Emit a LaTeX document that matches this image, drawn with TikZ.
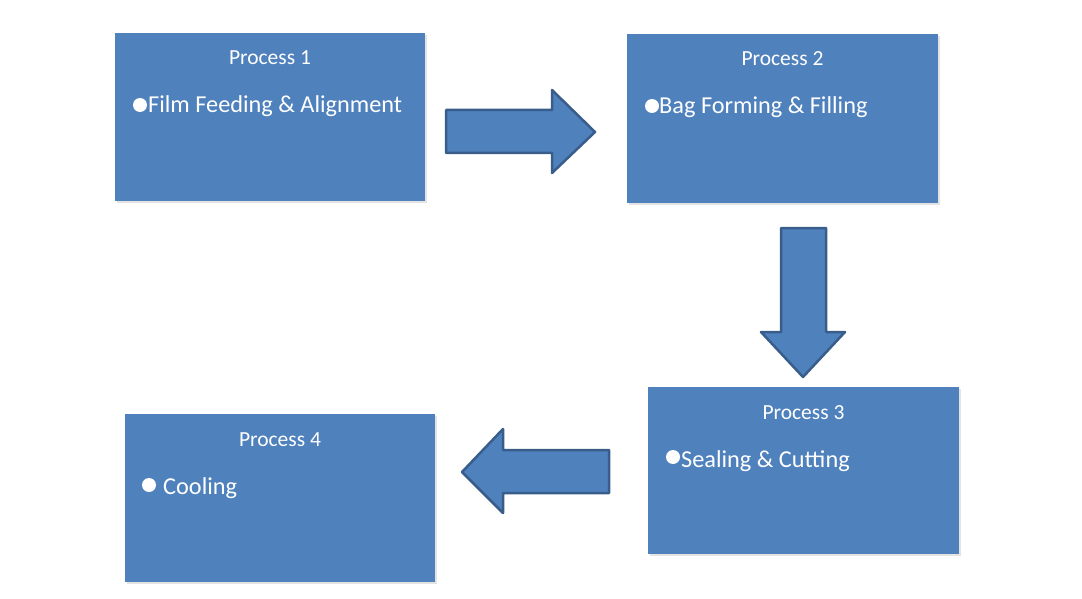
\documentclass[tikz,border=0pt]{standalone}
\usepackage{fontspec}
\setmainfont{Carlito}
\usetikzlibrary{shadows}

\definecolor{procblue}{HTML}{4F81BD}
\definecolor{procedge}{HTML}{385D8A}

\tikzset{
  procbox/.style={fill=procblue, draw=none, inner sep=0pt,
    drop shadow={opacity=0.22, shadow xshift=1.5pt, shadow yshift=-2pt}},
  proctitle/.style={text=white, font=\fontsize{21.5}{26}\selectfont, anchor=base, inner sep=0pt},
  procitem/.style={text=white, font=\fontsize{24.3}{29}\selectfont, anchor=base west, inner sep=0pt},
  bulletdot/.style={circle, fill=white, inner sep=0pt, minimum size=14pt},
  blockarrow/.style={fill=procblue, draw=procedge, line width=2.5pt, line join=round}
}

\begin{document}
\begin{tikzpicture}[x=1pt,y=-1pt]
  \useasboundingbox (0,0) rectangle (1082,599);

  % process boxes
  \foreach \n/\xa/\ya/\xb/\yb/\bx/\by/\tx/\txt in {
    1/115/33/425/201/140/105/148/Film Feeding \& Alignment,
    2/627/34/938/203/652/106/659/Bag Forming \& Filling,
    3/648/387/959/554/673/457/681/Sealing \& Cutting,
    4/125/414/435/582/149/485/163/Cooling
  }{
    \node[procbox, minimum width=\xb-\xa, minimum height=\yb-\ya]
      (p\n) at ({(\xa+\xb)/2},{(\ya+\yb)/2}) {};
    \node[proctitle] (t\n) at ({(\xa+\xb)/2},\ya+32) {Process \n};
    \node[bulletdot] (d\n) at (\bx,\by) {};
    \node[procitem] (i\n) at (\tx,\ya+80) {\txt};
  }

  % block arrows
  \draw[blockarrow] (446,110) -- (552,110) -- (552,90) -- (595,132)
    -- (552,173) -- (552,153) -- (446,153) -- cycle;
  \draw[blockarrow] (781,228) -- (826,228) -- (826,332) -- (845,332)
    -- (803,377) -- (761,332) -- (781,332) -- cycle;
  \draw[blockarrow] (609,450) -- (503,450) -- (503,429) -- (462,472)
    -- (503,513) -- (503,493) -- (609,493) -- cycle;
\end{tikzpicture}
\end{document}
